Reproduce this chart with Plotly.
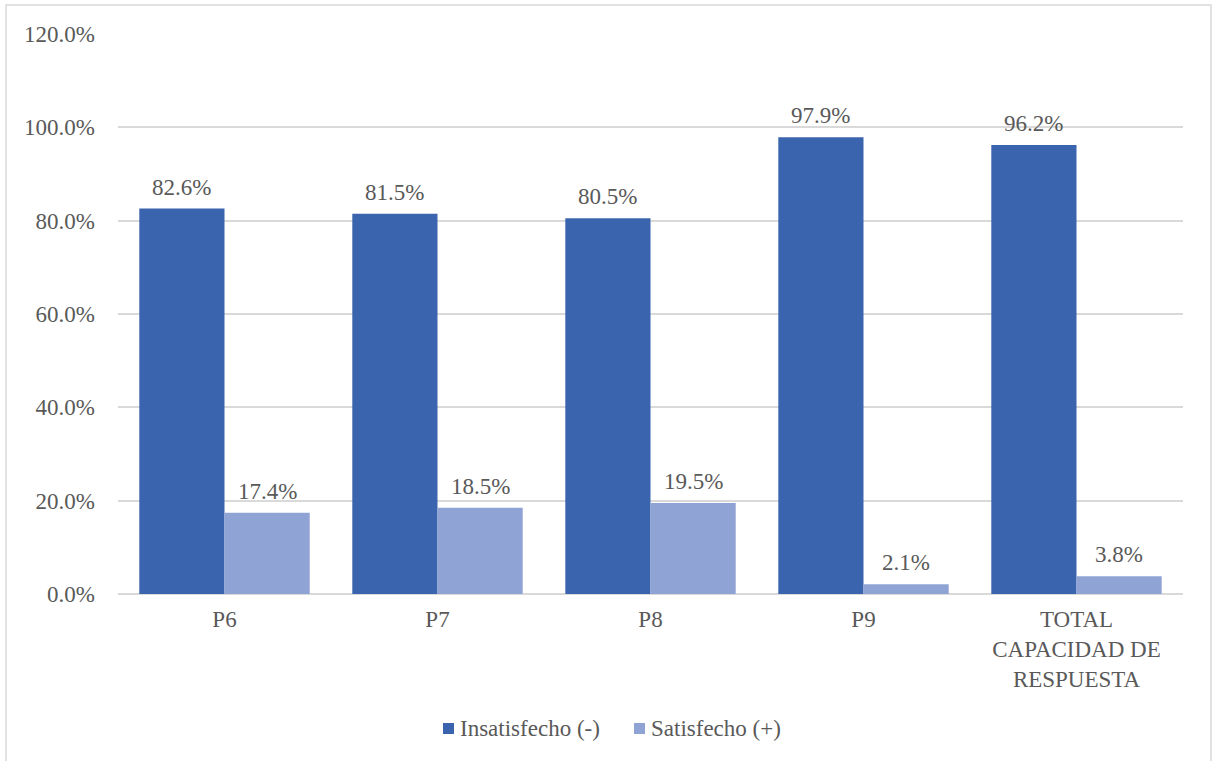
import plotly.graph_objects as go

categories = ["P6", "P7", "P8", "P9", "TOTAL<br>CAPACIDAD DE<br>RESPUESTA"]
insatisfecho = [0.826, 0.815, 0.805, 0.979, 0.962]
satisfecho = [0.174, 0.185, 0.195, 0.021, 0.038]
series_names = ["Insatisfecho (-)", "Satisfecho (+)"]
colors = ["#3A64AD", "#8FA3D5"]
y_ticks = [0, 0.2, 0.4, 0.6, 0.8, 1.0, 1.2]

FONT = "Liberation Serif"
GRAY = "#595959"
SIZE = 23

# plot area in pixels, used to place the legend and frame in paper coordinates
L, R, T, B = 118, 1183, 34, 594
def px(xp):
    return (xp - L) / (R - L)
def py(yp):
    return (B - yp) / (B - T)

fig = go.Figure()
for name, vals, col in zip(series_names, [insatisfecho, satisfecho], colors):
    fig.add_trace(go.Bar(x=categories, y=vals, name=name, marker_color=col,
                         marker_line_width=0, showlegend=False))

# value labels above each bar
annotations = []
for vals, shift in [(insatisfecho, -42.6), (satisfecho, 42.6)]:
    for cat, v in zip(categories, vals):
        annotations.append(dict(x=cat, y=v, xref="x", yref="y", text=f"{v*100:.1f}%",
                                showarrow=False, xshift=shift, yanchor="bottom", yshift=7,
                                font=dict(family=FONT, size=SIZE, color=GRAY)))

# frame around the chart
shapes = [dict(type="rect", xref="paper", yref="paper",
               x0=px(6), x1=px(1211), y0=py(800), y1=py(5),
               line=dict(color="#d9d9d9", width=1.5), fillcolor="rgba(0,0,0,0)",
               layer="below")]

# legend: square swatch + label for each series
legend_x = [443, 634]
for name, col, x0 in zip(series_names, colors, legend_x):
    shapes.append(dict(type="rect", xref="paper", yref="paper",
                       x0=px(x0), x1=px(x0 + 11), y0=py(734), y1=py(723),
                       line=dict(width=0), fillcolor=col))
    annotations.append(dict(x=px(x0 + 15), y=py(728), xref="paper", yref="paper",
                            text=name, showarrow=False, xanchor="left", yanchor="middle",
                            font=dict(family=FONT, size=SIZE, color=GRAY)))

fig.update_layout(
    width=1213, height=761,
    margin=dict(l=L, r=1213 - R, t=T, b=761 - B),
    paper_bgcolor="white", plot_bgcolor="white",
    font=dict(family=FONT, size=SIZE, color=GRAY),
    barmode="group", bargap=0.2, bargroupgap=0,
    showlegend=False,
    annotations=annotations,
    shapes=shapes,
)
fig.update_yaxes(range=[0, 1.2], tickvals=y_ticks, tickformat=".1%",
                 showgrid=True, gridcolor="#d9d9d9", gridwidth=1.5,
                 zeroline=True, zerolinecolor="#d9d9d9", zerolinewidth=1.5,
                 showline=False, ticks="", ticklabelstandoff=22,
                 tickfont=dict(family=FONT, size=SIZE, color=GRAY))
fig.update_xaxes(showline=False, ticks="", tickangle=0, ticklabelstandoff=9,
                 tickfont=dict(family=FONT, size=SIZE, color=GRAY))

fig.write_html("out.html")
